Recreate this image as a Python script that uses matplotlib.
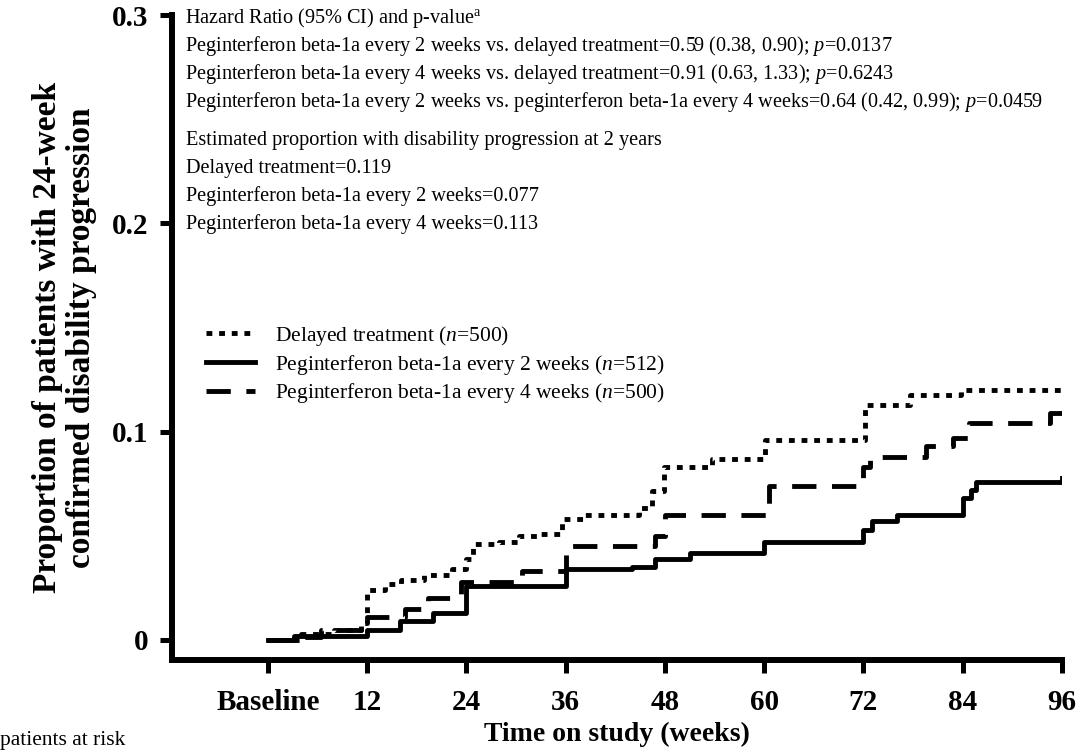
import matplotlib.pyplot as plt

plt.rcParams['font.family'] = 'Liberation Serif'
plt.rcParams['mathtext.fontset'] = 'custom'
plt.rcParams['mathtext.rm'] = 'Liberation Serif'
plt.rcParams['mathtext.it'] = 'Liberation Serif:italic'

# Kaplan-Meier style step curves (weeks, cumulative proportion)
weeks_delayed = [0, 4, 8, 11.3, 12, 14.2, 16.1, 18.9, 22.2, 24, 24.8, 27.9, 30.3, 32.7, 35.5,
                 38.3, 44.8, 46.4, 47.9, 53.7, 60.1, 72.2, 77.6, 83.8, 96]
prop_delayed = [0.0, 0.003, 0.005, 0.008, 0.024, 0.027, 0.029, 0.031, 0.034, 0.039, 0.046, 0.047,
                0.050, 0.051, 0.058, 0.060, 0.0635, 0.0716, 0.083, 0.087, 0.096, 0.113, 0.1176,
                0.120, 0.120]

weeks_q2w = [0, 3.2, 12, 16, 20, 24, 36, 44, 46.8, 51, 60, 72, 73, 76, 84, 85, 85.6, 96]
prop_q2w = [0.0, 0.002, 0.005, 0.009, 0.013, 0.026, 0.034, 0.035, 0.039, 0.042, 0.047, 0.053,
            0.057, 0.060, 0.068, 0.072, 0.076, 0.078]

weeks_q4w = [0, 3.2, 6.4, 11.3, 12, 16.6, 19.4, 23.4, 30.7, 36, 46.8, 48, 60.6, 72, 72.8, 79.5,
             82.8, 84.8, 94.5, 96]
prop_q4w = [0.0, 0.0015, 0.005, 0.008, 0.011, 0.015, 0.020, 0.028, 0.033, 0.045, 0.050, 0.060,
            0.074, 0.083, 0.088, 0.093, 0.097, 0.104, 0.109, 0.110]

labels = ['Delayed treatment ($\\mathit{n}$=500)',
          'Peginterferon beta-1a every 2 weeks ($\\mathit{n}$=512)',
          'Peginterferon beta-1a every 4 weeks ($\\mathit{n}$=500)']

xticks = [0, 12, 24, 36, 48, 60, 72, 84, 96]
xticklabels = ['Baseline', '12', '24', '36', '48', '60', '72', '84', '96']
yticks = [0, 0.1, 0.2, 0.3]
yticklabels = ['0', '0.1', '0.2', '0.3']

hr_lines = [
    'Hazard Ratio (95% CI) and p-value$^{\\mathrm{a}}$',
    'Peginterferon beta-1a every 2 weeks vs. delayed treatment=0.59 (0.38, 0.90); $\\mathit{p}$=0.0137',
    'Peginterferon beta-1a every 4 weeks vs. delayed treatment=0.91 (0.63, 1.33); $\\mathit{p}$=0.6243',
    'Peginterferon beta-1a every 2 weeks vs. peginterferon beta-1a every 4 weeks=0.64 (0.42, 0.99); $\\mathit{p}$=0.0459',
]
est_lines = [
    'Estimated proportion with disability progression at 2 years',
    'Delayed treatment=0.119',
    'Peginterferon beta-1a every 2 weeks=0.077',
    'Peginterferon beta-1a every 4 weeks=0.113',
]

W, H = 1087, 753
fig = plt.figure(figsize=(W / 100, H / 100), dpi=100)
ax = fig.add_axes([172 / W, 1 - 660 / H, (1062 - 172) / W, (660 - 15) / H])

lw = 3.5
ax.plot(weeks_delayed, prop_delayed, drawstyle='steps-post', color='black', lw=lw,
        linestyle=(0, (1.2, 1.4)), dash_capstyle='butt', label=labels[0])
ax.plot(weeks_q2w, prop_q2w, drawstyle='steps-post', color='black', lw=lw,
        linestyle='-', label=labels[1])
ax.plot(weeks_q4w, prop_q4w, drawstyle='steps-post', color='black', lw=lw,
        linestyle=(0, (5, 3.2)), dash_capstyle='butt', label=labels[2])

ax.set_xlim(-11.6, 96)
ax.set_ylim(-0.0096, 0.3)
ax.set_xticks(xticks)
ax.set_xticklabels(xticklabels)
ax.set_yticks(yticks)
ax.set_yticklabels(yticklabels)
for lab in ax.get_xticklabels() + ax.get_yticklabels():
    lab.set_fontweight('bold')
    lab.set_fontsize(21)
ax.tick_params(axis='x', length=9, width=3.6, pad=12)
ax.tick_params(axis='y', length=9, width=3.6, pad=8)

for s in ['top', 'right']:
    ax.spines[s].set_visible(False)
for s in ['left', 'bottom']:
    ax.spines[s].set_linewidth(4.3)

ax.set_xlabel('Time on study (weeks)', fontsize=20, fontweight='bold', labelpad=4)
ax.set_ylabel('Proportion of patients with 24-week\nconfirmed disability progression',
              fontsize=24, fontweight='bold', labelpad=11, linespacing=1.1)

ax.legend(loc='upper left', bbox_to_anchor=(195 / W, 1 - 313 / H),
          bbox_transform=fig.transFigure, frameon=False, fontsize=15.5,
          handlelength=2.3, handletextpad=0.9, labelspacing=0.22, borderpad=0)

ys = [18, 46, 74, 102]
for t, y in zip(hr_lines, ys):
    fig.text(185 / W, 1 - y / H, t, fontsize=14.6, va='center', ha='left')
ys = [140, 168, 196, 224]
for t, y in zip(est_lines, ys):
    fig.text(186 / W, 1 - y / H, t, fontsize=14.6, va='center', ha='left')

fig.text(0, 1 - 740 / H, 'patients at risk', fontsize=15.5, va='center', ha='left')

fig.savefig('out.png', dpi=100)
